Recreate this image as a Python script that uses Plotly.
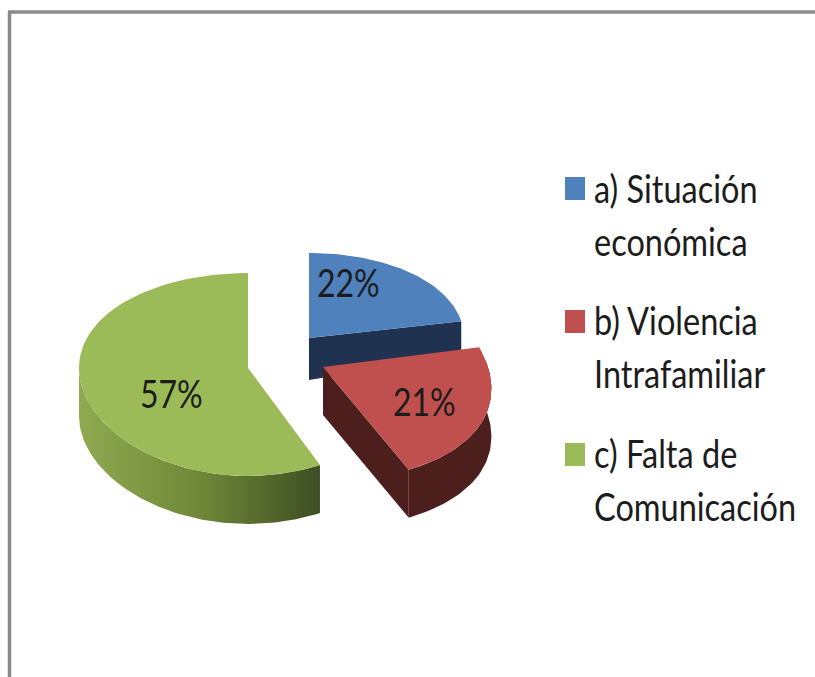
import numpy as np
import plotly.graph_objects as go

# --- data ---
labels = ["a) Situación", "b) Violencia", "c) Falta de"]
labels_second_line = ["económica", "Intrafamiliar", "Comunicación"]
values = [22, 21, 57]

# --- style and layout ---
top_colors = ["#4F81BD", "#C0504D", "#9BBB59"]
wall_colors = ["#1F3350", "#4D1F1C", "#6F8838"]
FONT = "Lato, Liberation Sans, sans-serif"
INK = "#1c1c1c"
# per-slice projection: centre x, centre y, radius x, radius y, depth k (y), depth k (x), wall height
geom = [
    (309, 338, 155, 90.5, 0.064, 0.0, 42),
    (323, 367, 165, 107, 0.064, 0.2, 48),
    (248, 368, 169, 101, 0.064, 0.0, 48),
]
pct_pos = [(348, 282), (424, 401), (171, 393)]
legend_y = [(188, 241), (320, 373), (453, 506)]
swatch_y = [(177, 200), (310, 333), (443, 466)]


def project(theta_deg, g):
    cx, cy, rx, ry, ky, kx, _ = g
    t = np.radians(theta_deg)
    u, v = np.sin(t), -np.cos(t)
    return cx + rx * u / (1 - kx * v), cy + ry * v / (1 - ky * v)


total = sum(values)
edges = np.concatenate([[0], np.cumsum(values)]) / total * 360
fig = go.Figure()


def poly(x, y, color=None, gradient=None):
    kw = dict(fillgradient=gradient) if gradient else dict(fillcolor=color)
    fig.add_trace(go.Scatter(x=list(x), y=list(y), mode="lines", fill="toself",
                             line=dict(width=0), hoverinfo="skip", showlegend=False, **kw))


# blue: radial cut face towards the right
g = geom[0]
ex, ey = project(edges[1], g)
poly([g[0], ex, ex, g[0]], [g[1], ey, ey + g[6] - 8, g[1] + g[6]], wall_colors[0])
th = np.linspace(edges[0], edges[1], 60)
px, py = project(th, g)
poly(np.r_[g[0], px], np.r_[g[1], py], top_colors[0])

# red: outer wall and radial cut face
g = geom[1]
th = np.linspace(edges[1] + 8, edges[2], 60)
px, py = project(th, g)
poly(np.r_[px, px[::-1]], np.r_[py, py[::-1] + g[6]], wall_colors[1])
poly([g[0], px[-1], px[-1], g[0]], [g[1], py[-1], py[-1] + g[6], g[1] + g[6]], wall_colors[1])
th = np.linspace(edges[1], edges[2], 60)
px, py = project(th, g)
poly(np.r_[g[0], px], np.r_[g[1], py], top_colors[1])

# green: shaded outer wall and top face
g = geom[2]
th = np.linspace(edges[2], 270, 80)
px, py = project(th, g)
poly(np.r_[px, px[::-1]], np.r_[py, py[::-1] + g[6]],
     gradient=dict(type="horizontal",
                   colorscale=[[0, "#8FAA50"], [0.5, "#6F8838"], [1, "#3E4E22"]]))
th = np.linspace(edges[2], edges[3], 120)
px, py = project(th, g)
poly(np.r_[g[0], px], np.r_[g[1], py], top_colors[2])

# percentage labels
for v, (x, y) in zip(values, pct_pos):
    fig.add_annotation(x=x, y=y, text=f"{v}%", showarrow=False, xanchor="center", yanchor="middle",
                       font=dict(family=FONT, size=32, color=INK))

# legend
shapes = []
for i in range(3):
    for line, y in zip((labels[i], labels_second_line[i]), legend_y[i]):
        fig.add_annotation(x=592, y=y, text=line, showarrow=False, xanchor="left", yanchor="middle",
                           font=dict(family=FONT, size=32.5, color=INK))
    shapes.append(dict(type="rect", x0=565, x1=585, y0=swatch_y[i][0], y1=swatch_y[i][1],
                       fillcolor=top_colors[i], line=dict(width=0), layer="above"))

# outer frame
shapes.append(dict(type="line", x0=9.5, x1=9.5, y0=12, y1=677, line=dict(color="#8A8A8A", width=3.5)))
shapes.append(dict(type="line", x0=8, x1=815, y0=12, y1=12, line=dict(color="#8A8A8A", width=3.5)))

fig.update_layout(
    width=815, height=677, margin=dict(l=0, r=0, t=0, b=0),
    paper_bgcolor="white", plot_bgcolor="white", showlegend=False, shapes=shapes,
    xaxis=dict(range=[0, 815], visible=False, fixedrange=True),
    yaxis=dict(range=[677, 0], visible=False, fixedrange=True),
)
# the reference's lettering is stretched vertically
stretch = """
document.body.style.margin='0';
document.querySelectorAll('.annotation-text').forEach(function(t){
  t.style.transformBox='fill-box';
  t.style.transformOrigin='center';
  t.style.transform='scaleY(1.2)';
});
"""
fig.write_html("out.html", config=dict(displayModeBar=False),
               default_width="815px", default_height="677px",
               post_script=stretch)
